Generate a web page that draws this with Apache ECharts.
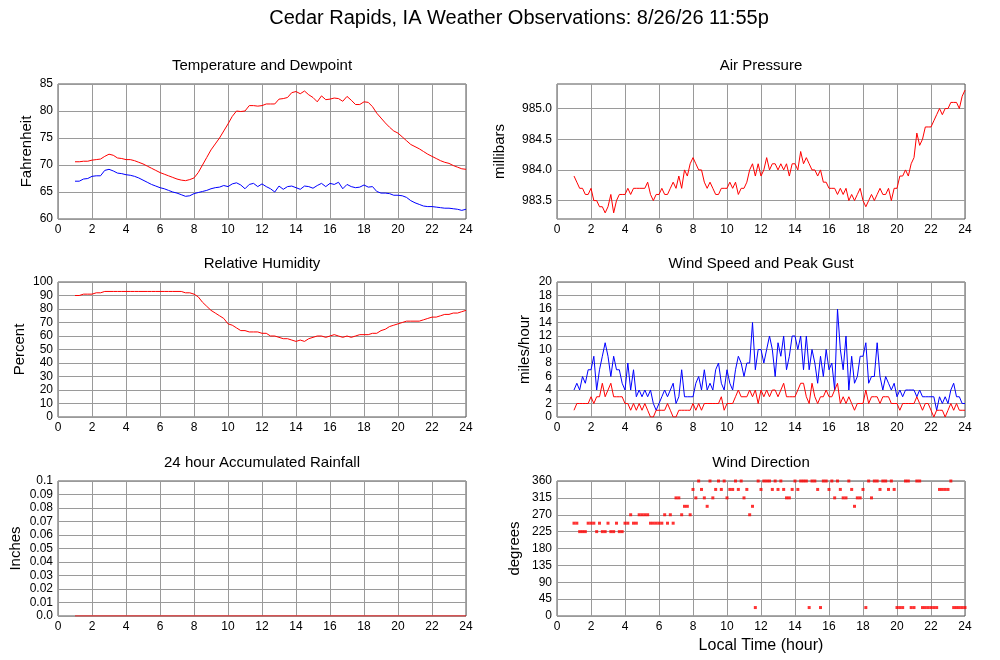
<!DOCTYPE html>
<html>
<head>
<meta charset="utf-8">
<title>Cedar Rapids, IA Weather Observations</title>
<script src="https://cdn.jsdelivr.net/npm/echarts@6.0.0/dist/echarts.min.js"></script>
<style>
  html, body { margin: 0; padding: 0; background: #fff; }
  #main { width: 1000px; height: 660px; }
</style>
</head>
<body>
<div id="main"></div>
<script>
// observation times (hour of day), 15 min and 10 min sampling
var t15 = [];
for (var i = 0; i < 93; i++) t15.push(1 + i * 0.25);
var t10 = [];
for (var j = 0; j < 139; j++) t10.push(1 + j / 6);
var rainHours = [1, 2, 3, 4, 5, 6, 7, 8, 9, 10, 11, 12, 13, 14, 15, 16, 17, 18, 19, 20, 21, 22, 23, 24];

var pressureTicks = [983.5, 984.0, 984.5, 985.0];

// temperature (F), every 15 min
var temp = [
  70.6, 70.6, 70.7, 70.7, 70.9, 71.0, 71.1, 71.6, 72.0, 71.8, 71.3, 71.2,
  71.0, 71.0, 70.8, 70.5, 70.2, 69.8, 69.4, 69.0, 68.6, 68.3, 68.0, 67.7,
  67.4, 67.2, 67.1, 67.3, 67.6, 68.6, 70.0, 71.4, 72.8, 73.9, 75.0, 76.3,
  77.6, 79.0, 80.0, 79.9, 80.0, 81.0, 81.0, 80.9, 81.0, 81.3, 81.3, 81.3,
  82.2, 82.3, 82.5, 83.4, 83.6, 83.2, 83.7, 83.0, 82.5, 81.7, 82.8, 82.1,
  82.2, 82.4, 82.3, 81.8, 82.7, 82.0, 81.2, 81.2, 81.7, 81.6, 80.8, 79.6,
  78.7, 77.8, 77.0, 76.3, 75.9, 75.2, 74.5, 73.8, 73.4, 73.0, 72.5, 72.0,
  71.6, 71.2, 70.8, 70.5, 70.3, 69.9, 69.6, 69.3, 69.2
];
// dewpoint (F)
var dewpoint = [
  67.0, 67.0, 67.4, 67.5, 67.9, 68.0, 68.0, 69.0, 69.2, 68.9, 68.5, 68.4,
  68.2, 68.1, 67.9, 67.6, 67.2, 66.8, 66.4, 66.1, 65.8, 65.6, 65.3, 65.0,
  64.8, 64.5, 64.2, 64.3, 64.7, 64.9, 65.1, 65.3, 65.6, 65.8, 65.9, 66.2,
  66.0, 66.5, 66.7, 66.3, 65.6, 66.4, 66.6, 66.0, 66.5, 66.0, 65.6, 65.0,
  66.1, 65.5, 66.0, 66.1, 65.8, 65.5, 66.1, 66.0, 65.7, 66.2, 66.6, 66.0,
  66.6, 66.4, 66.8, 65.6, 66.4, 66.0, 65.8, 65.9, 66.3, 65.9, 66.0, 65.1,
  64.8, 64.8, 64.7, 64.4, 64.4, 64.3, 64.0, 63.4, 63.0, 62.7, 62.4, 62.3,
  62.3, 62.2, 62.1, 62.0, 62.0, 61.9, 61.8, 61.6, 61.8
];
// air pressure (mb), every 10 min
var pressure = [
  983.9, 983.8, 983.7, 983.7, 983.6, 983.6,  983.7, 983.5, 983.5, 983.4, 983.4, 983.3,
  983.4, 983.6, 983.3, 983.5, 983.6, 983.6,  983.6, 983.7, 983.6, 983.7, 983.7, 983.7,
  983.7, 983.7, 983.8, 983.6, 983.5, 983.6,  983.6, 983.7, 983.6, 983.6, 983.7, 983.8,
  983.7, 983.9, 983.7, 984.0, 983.9, 984.1,  984.2, 984.1, 984.0, 984.0, 983.8, 983.7,
  983.8, 983.7, 983.6, 983.6, 983.7, 983.7,  983.7, 983.8, 983.7, 983.8, 983.6, 983.7,
  983.7, 983.8, 984.0, 984.1, 983.9, 984.1,  983.9, 984.0, 984.2, 984.0, 984.1, 984.1,
  984.0, 984.1, 984.0, 984.1, 983.9, 984.1,  984.1, 984.0, 984.3, 984.1, 984.2, 984.1,
  984.0, 984.0, 983.9, 984.0, 983.8, 983.8,  983.7, 983.7, 983.7, 983.6, 983.7, 983.6,
  983.7, 983.5, 983.6, 983.5, 983.6, 983.7,  983.5, 983.4, 983.5, 983.6, 983.5, 983.6,
  983.7, 983.6, 983.6, 983.7, 983.5, 983.7,  983.7, 983.9, 983.9, 984.0, 983.9, 984.1,
  984.2, 984.6, 984.4, 984.5, 984.7, 984.7,  984.7, 984.8, 984.9, 985.0, 984.9, 985.0,
  985.0, 985.1, 985.1, 985.1, 985.0, 985.2,  985.3
];
// relative humidity (%), every 15 min
var humidity = [
  90, 90, 91, 91, 91, 92, 92, 93, 93, 93, 93, 93,
  93, 93, 93, 93, 93, 93, 93, 93, 93, 93, 93, 93,
  93, 93, 92, 92, 91, 89, 85, 82, 79, 77, 75, 73,
  69, 68, 66, 64, 64, 63, 63, 63, 62, 62, 60, 60,
  59, 58, 58, 57, 56, 57, 56, 58, 59, 60, 60, 59,
  60, 61, 60, 59, 60, 59, 60, 61, 61, 61, 62, 62,
  64, 65, 67, 68, 69, 70, 71, 71, 71, 71, 72, 73,
  74, 74, 75, 76, 76, 77, 77, 78, 79
];
// peak gust and wind speed (mph), every 10 min
var gust = [
  4, 5, 4, 6, 5, 7,  7, 9, 4, 7, 9, 11,  9, 6, 9, 7, 7, 5,  4, 8, 4, 7, 3, 4,
  3, 4, 3, 4, 2, 1,  2, 3, 4, 3, 4, 5,  2, 3, 7, 3, 3, 3,  3, 5, 6, 4, 7, 4,
  5, 4, 7, 8, 5, 4,  7, 5, 4, 7, 9, 8,  6, 8, 8, 14, 7, 10,  10, 8, 10, 12, 10, 6,
  11, 9, 12, 7, 9, 12,  12, 10, 12, 7, 12, 7,  10, 8, 5, 9, 6, 10,  7, 8, 4, 16, 10, 7,
  12, 4, 9, 5, 6, 9,  9, 11, 5, 6, 6, 11,  6, 4, 6, 5, 4, 5,  3, 4, 3, 4, 4, 4,
  4, 3, 4, 3, 3, 3,  3, 3, 1, 3, 2, 3,  2, 4, 5, 3, 3, 2,  2
];
var speed = [
  1, 2, 2, 2, 2, 2,  3, 2, 3, 3, 5, 3,  4, 5, 3, 3, 3, 3,  2, 2, 1, 2, 1, 2,
  1, 2, 1, 0, 0, 1,  1, 1, 1, 2, 1, 0,  0, 1, 1, 1, 1, 1,  2, 1, 2, 1, 2, 2,
  2, 2, 2, 2, 3, 1,  2, 2, 2, 3, 4, 3,  3, 3, 4, 3, 4, 2,  4, 3, 4, 3, 4, 4,
  3, 4, 5, 3, 3, 3,  3, 4, 5, 5, 3, 2,  5, 3, 2, 3, 3, 4,  3, 3, 4, 5, 2, 3,
  2, 3, 2, 1, 2, 2,  2, 4, 2, 3, 3, 3,  2, 3, 3, 3, 2, 2,  2, 1, 2, 2, 2, 2,
  2, 3, 2, 1, 2, 2,  1, 0, 1, 1, 1, 0,  1, 2, 1, 2, 1, 1,  1
];
// wind direction (degrees), every 10 min
var direction = [
  247.5, 247.5, 225, 225, 225, 247.5,  247.5, 247.5, 225, 247.5, 225, 225,
  247.5, 225, 225, 247.5, 225, 225,  247.5, 247.5, 270, 247.5, 247.5, 270,
  270, 270, 270, 247.5, 247.5, 247.5,  247.5, 247.5, 270, 247.5, 270, 247.5,
  315, 315, 270, 292.5, 292.5, 270,  337.5, 315, 360, 337.5, 315, 292.5,
  360, 315, 337.5, 360, 337.5, 360,  315, 337.5, 337.5, 360, 337.5, 360,
  315, 337.5, 270, 292.5, 22.5, 360,  337.5, 360, 360, 360, 337.5, 360,
  337.5, 360, 337.5, 315, 315, 337.5,  360, 337.5, 360, 360, 360, 22.5,
  360, 360, 337.5, 22.5, 360, 360,  337.5, 360, 315, 360, 337.5, 315,
  315, 360, 337.5, 292.5, 315, 315,  337.5, 22.5, 360, 315, 360, 360,
  337.5, 360, 360, 337.5, 360, 337.5,  22.5, 22.5, 22.5, 360, 360, 22.5,
  22.5, 360, 360, 22.5, 22.5, 22.5,  22.5, 22.5, 22.5, 337.5, 337.5, 337.5,
  337.5, 360, 22.5, 22.5, 22.5, 22.5,  22.5
];
// 24 hour accumulated rain (in)
var rain = [0, 0, 0, 0, 0, 0, 0, 0, 0, 0, 0, 0, 0, 0, 0, 0, 0, 0, 0, 0, 0, 0, 0, 0];

var FONT = '"Liberation Sans", Arial, Helvetica, sans-serif';

function pairs(xs, ys) {
  return xs.map(function (x, k) { return [x, ys[k]]; });
}

// panel positions: [left, top]
var panels = [[58, 84], [557, 84], [58, 282], [557, 282], [58, 481], [557, 481]];
var panelTitles = ['Temperature and Dewpoint', 'Air Pressure', 'Relative Humidity',
  'Wind Speed and Peak Gust', '24 hour Accumulated Rainfall', 'Wind Direction'];

function xAxisFor(k) {
  var ax = {
    type: 'value', gridIndex: k, min: 0, max: 24, interval: 2,
    axisLine: { show: false },
    axisTick: { show: false },
    axisLabel: { color: '#000', fontSize: 12, fontFamily: FONT, margin: 5 },
    splitLine: { show: true, lineStyle: { color: '#9a9a9a', width: 1 } }
  };
  if (k === 5) {
    ax.name = 'Local Time (hour)';
    ax.nameLocation = 'middle';
    ax.nameGap = 22;
    ax.nameTextStyle = { color: '#000', fontSize: 16, fontFamily: FONT };
  }
  return ax;
}

function yAxisFor(k, name, gap, min, max, interval, fmt) {
  return {
    type: 'value', gridIndex: k, min: min, max: max, interval: interval,
    name: name, nameLocation: 'middle', nameGap: gap,
    nameTextStyle: { color: '#000', fontSize: 15, fontFamily: FONT },
    axisLine: { show: false },
    axisTick: { show: false },
    axisLabel: { color: '#000', fontSize: 12, fontFamily: FONT, margin: 5, formatter: fmt },
    splitLine: { show: true, lineStyle: { color: '#9a9a9a', width: 1 } }
  };
}

function lineSeries(k, data, color) {
  return {
    type: 'line', xAxisIndex: k, yAxisIndex: k, data: data,
    showSymbol: false, symbol: 'none', silent: true,
    lineStyle: { color: color, width: 1 }, itemStyle: { color: color }
  };
}

function getOption() {
  var grids = panels.map(function (p) {
    return {
      left: p[0], top: p[1], width: 408, height: 135,
      show: true, borderColor: '#555', borderWidth: 1, backgroundColor: 'transparent'
    };
  });

  var titles = [{
    text: 'Cedar Rapids, IA Weather Observations: 8/26/26 11:55p',
    left: 519, top: 8, textAlign: 'center', padding: 0,
    textStyle: { color: '#000', fontSize: 20, fontWeight: 'normal', fontFamily: FONT }
  }];
  panelTitles.forEach(function (t, k) {
    titles.push({
      text: t, left: panels[k][0] + 204, top: panels[k][1] - 26, textAlign: 'center', padding: 0,
      textStyle: { color: '#000', fontSize: 15, fontWeight: 'normal', fontFamily: FONT }
    });
  });

  // pressure axis: range does not start on a tick, so ticks are listed
  var pressureAxis = yAxisFor(1, 'millibars', 50, 983.2, 985.4, null,
    function (v) { return v.toFixed(1); });
  delete pressureAxis.interval;
  pressureAxis.axisLabel.customValues = pressureTicks;
  pressureAxis.axisTick.customValues = pressureTicks;

  return {
    animation: false,
    backgroundColor: '#fff',
    title: titles,
    grid: grids,
    xAxis: [0, 1, 2, 3, 4, 5].map(xAxisFor),
    yAxis: [
      yAxisFor(0, 'Fahrenheit', 24, 60, 85, 5),
      pressureAxis,
      yAxisFor(2, 'Percent', 31, 0, 100, 10),
      yAxisFor(3, 'miles/hour', 25, 0, 20, 2),
      yAxisFor(4, 'Inches', 35, 0, 0.1, 0.01, function (v) {
        return v === 0 ? '0.0' : String(+v.toFixed(2));
      }),
      yAxisFor(5, 'degrees', 35, 0, 360, 45)
    ],
    series: [
      lineSeries(0, pairs(t15, temp), '#ff0000'),
      lineSeries(0, pairs(t15, dewpoint), '#0000ff'),
      lineSeries(1, pairs(t10, pressure), '#ff0000'),
      lineSeries(2, pairs(t15, humidity), '#ff0000'),
      lineSeries(3, pairs(t10, gust), '#0000ff'),
      lineSeries(3, pairs(t10, speed), '#ff0000'),
      lineSeries(4, pairs(rainHours, rain), '#ff0000'),
      {
        type: 'scatter', xAxisIndex: 5, yAxisIndex: 5, silent: true,
        symbol: 'rect', symbolSize: 3,
        itemStyle: { color: '#ff0000' },
        data: pairs(t10, direction)
      }
    ]
  };
}

var chart = echarts.init(document.getElementById('main'), null, { renderer: 'canvas' });
chart.setOption(getOption());
</script>
</body>
</html>
